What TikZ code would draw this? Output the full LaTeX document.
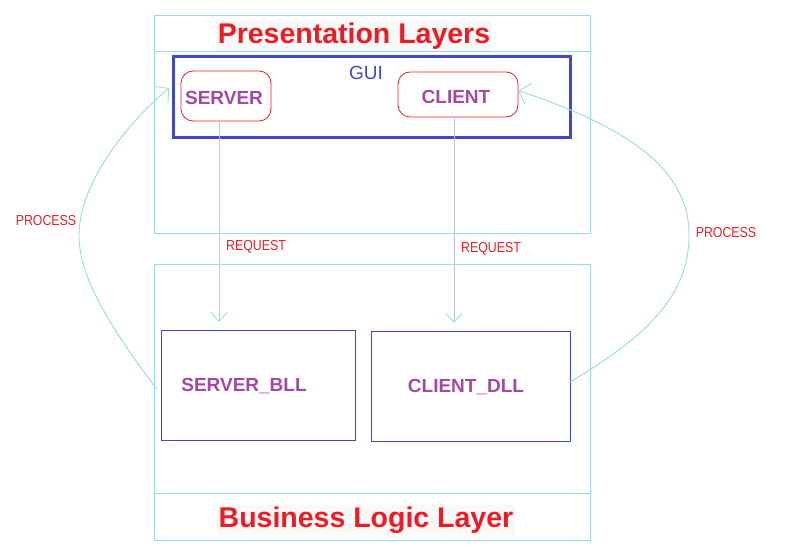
\documentclass[tikz,border=0pt]{standalone}
\usepackage{fontspec}
\setmainfont{Liberation Sans}
\newfontfamily\narrowfont[FakeStretch=0.85]{Liberation Sans}
\usetikzlibrary{arrows.meta,calc}
\definecolor{ltblue}{RGB}{153,217,234}
\definecolor{pnred}{RGB}{237,28,36}
\definecolor{pnpurple}{RGB}{163,73,164}
\definecolor{pnblue}{RGB}{63,72,204}
\definecolor{lav}{RGB}{200,191,231}
\definecolor{tbg}{RGB}{248,248,248}
\tikzset{
  layerbox/.style={draw=ltblue, line width=0.9pt, minimum width=436pt, inner sep=0pt},
  bigtitle/.style={text=pnred, font=\bfseries\fontsize{28.5}{30}\selectfont, fill=tbg, inner sep=2pt},
  compbox/.style={draw=pnred, line width=0.8pt, rounded corners=12pt, inner sep=0pt},
  compname/.style={text=pnpurple, font=\bfseries\fontsize{19}{20}\selectfont, inner sep=0pt},
  logicbox/.style={draw=pnblue, line width=0.9pt, inner sep=0pt},
  smalllabel/.style={text=pnred, font=\narrowfont\fontsize{14.5}{16}\selectfont, inner sep=0pt},
  reqarrow/.style={draw=lav, line width=0.9pt, -{Straight Barb[length=9pt,width=16pt,color=ltblue,line width=0.8pt]}},
  procarrow/.style={draw=ltblue, line width=0.9pt, -{Straight Barb[length=10pt,width=22pt,line width=0.8pt]}}
}
\begin{document}
\begin{tikzpicture}[x=1pt,y=-1pt]
\useasboundingbox (0,0) rectangle (803,551);
% Presentation layer
\node[layerbox, minimum height=218pt] (pres) at (372,124) {};
\draw[ltblue, line width=0.9pt] ([yshift=-37pt]pres.north west) -- ([yshift=-37pt]pres.north east);
\node[bigtitle] (prestitle) at (354,36) {Presentation Layers};
% GUI
\node[draw=pnblue, line width=3pt, minimum width=397pt, minimum height=80pt, inner sep=0pt] (gui) at (372,97) {};
\node[text=pnblue, font=\fontsize{19}{20}\selectfont, inner sep=0pt] (guilabel) at (366,73) {GUI};
\node[compbox, minimum width=90pt, minimum height=50pt] (server) at (226,96) {};
\node[compname] (servert) at (224,98) {SERVER};
\node[compbox, minimum width=120pt, minimum height=45pt] (client) at (458,94.5) {};
\node[compname] (clientt) at (456,97) {CLIENT};
% Business logic layer
\node[layerbox, minimum height=276pt] (bus) at (372,402) {};
\draw[ltblue, line width=0.9pt] ([yshift=47pt]bus.south west) -- ([yshift=47pt]bus.south east);
\node[bigtitle] (bustitle) at (366,520) {Business Logic Layer};
\node[logicbox, minimum width=194pt, minimum height=110pt] (bll) at (258,385) {};
\node[compname] (bllt) at (244,386) {SERVER\_BLL};
\node[logicbox, minimum width=199pt, minimum height=110pt] (dll) at (470.5,386) {};
\node[compname] (dllt) at (466,387) {CLIENT\_DLL};
% request arrows
\coordinate (req1end) at (219,322);
\coordinate (req2end) at (454,323);
\draw[reqarrow] ([xshift=-7pt]server.south) -- (req1end);
\draw[reqarrow] ([xshift=-4pt]client.south) -- (req2end);
\node[smalllabel] (req1) at (256,247) {REQUEST};
\node[smalllabel] (req2) at (491,249) {REQUEST};
% process arrows
\draw[procarrow] ([xshift=-4pt,yshift=-4pt]bll.west) .. controls (105,320) and (79,275) .. (79,235)
   .. controls (79,185) and (125,125) .. ([xshift=-3pt,yshift=9pt]gui.west);
\draw[procarrow] ([xshift=-2pt,yshift=3pt]dll.east) .. controls (640,340) and (689,300) .. (689,235)
   .. controls (689,165) and (620,125) .. ([yshift=4pt]client.east);
\node[smalllabel] (proc1) at (46,221) {PROCESS};
\node[smalllabel] (proc2) at (726,233) {PROCESS};
\end{tikzpicture}
\end{document}
